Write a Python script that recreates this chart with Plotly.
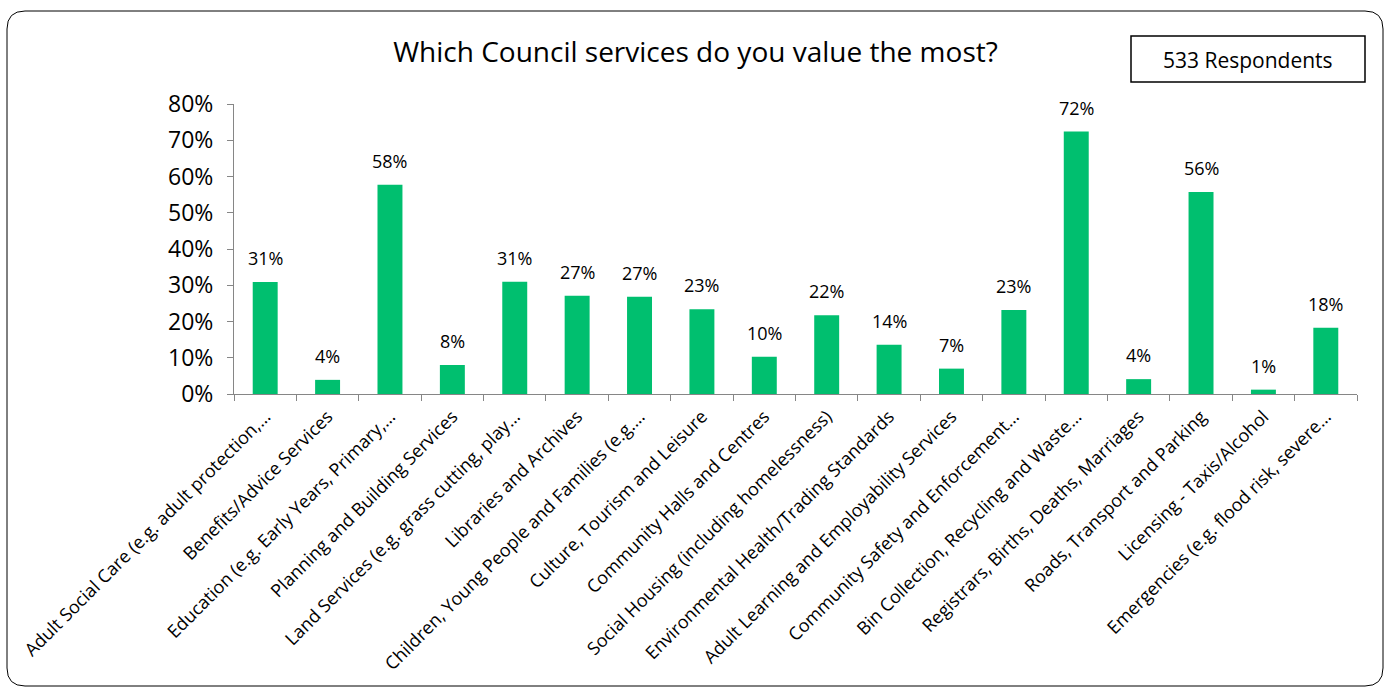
import plotly.graph_objects as go

# Survey results: share of respondents valuing each Council service
services = [
    "Adult Social Care (e.g. adult protection,…",
    "Benefits/Advice Services",
    "Education (e.g. Early Years, Primary,…",
    "Planning and Building Services",
    "Land Services (e.g. grass cutting, play…",
    "Libraries and Archives",
    "Children, Young People and Families (e.g.…",
    "Culture, Tourism and Leisure",
    "Community Halls and Centres",
    "Social Housing (including homelessness)",
    "Environmental Health/Trading Standards",
    "Adult Learning and Employability Services",
    "Community Safety and Enforcement…",
    "Bin Collection, Recycling and Waste…",
    "Registrars, Births, Deaths, Marriages",
    "Roads, Transport and Parking",
    "Licensing - Taxis/Alcohol",
    "Emergencies (e.g. flood risk, severe…",
]
shares = [0.309, 0.039, 0.577, 0.080, 0.310, 0.271, 0.268, 0.234, 0.103,
          0.217, 0.136, 0.070, 0.232, 0.724, 0.041, 0.557, 0.012, 0.183]
respondents = 533
title_text = "Which Council services do you value the most?"

W, H = 1391, 690
ML, MR, MT, MB = 234, 34, 104, 296
PW, PH = W - ML - MR, H - MT - MB


def px_x(x):
    return (x - ML) / PW


def px_y(y):
    return (H - MB - y) / PH


FONT = "Open Sans"
GREEN = "#00BF6F"
AXIS = "#868686"

fig = go.Figure(
    go.Bar(
        x=services,
        y=shares,
        marker=dict(color=GREEN, line=dict(width=0)),
        width=0.4,
        hovertemplate="%{x}: %{y:.0%}<extra></extra>",
    )
)

# Value labels sit a little above each bar top
value_labels = [
    dict(x=s, y=v, text=f"{v:.0%}", xref="x", yref="y",
         xanchor="center", yanchor="middle", yshift=24, showarrow=False,
         font=dict(family=FONT, size=18, color="#000000"))
    for s, v in zip(services, shares)
]

# Rounded frame around the whole chart
x0, x1 = px_x(7), px_x(1383)
y0, y1 = px_y(686), px_y(11)
rx, ry = 18 / PW, 18 / PH
frame = (
    f"M {x0 + rx},{y1} L {x1 - rx},{y1} Q {x1},{y1} {x1},{y1 - ry} "
    f"L {x1},{y0 + ry} Q {x1},{y0} {x1 - rx},{y0} "
    f"L {x0 + rx},{y0} Q {x0},{y0} {x0},{y0 + ry} "
    f"L {x0},{y1 - ry} Q {x0},{y1} {x0 + rx},{y1} Z"
)

fig.update_layout(
    width=W,
    height=H,
    margin=dict(l=ML, r=MR, t=MT, b=MB),
    paper_bgcolor="white",
    plot_bgcolor="white",
    showlegend=False,
    font=dict(family=FONT, color="#000000"),
    title=dict(
        text=title_text,
        x=0.5,
        xanchor="center",
        xref="container",
        y=1 - 52 / H,
        yanchor="middle",
        font=dict(family=FONT, size=28, color="#000000"),
    ),
    xaxis=dict(
        type="category",
        tickangle=-45,
        tickfont=dict(family=FONT, size=18, color="#000000"),
        ticklabelstandoff=4,
        showline=True,
        linecolor=AXIS,
        linewidth=1,
        ticks="outside",
        tickson="boundaries",
        ticklen=6,
        tickcolor=AXIS,
        showgrid=False,
        automargin=False,
    ),
    yaxis=dict(
        range=[0, 0.8],
        dtick=0.1,
        tickformat=".0%",
        tickfont=dict(family=FONT, size=23, color="#000000"),
        ticklabelstandoff=9,
        showline=True,
        linecolor=AXIS,
        linewidth=1,
        ticks="outside",
        ticklen=6,
        tickcolor=AXIS,
        showgrid=False,
        zeroline=False,
        automargin=False,
    ),
    shapes=[
        dict(type="path", xref="paper", yref="paper", path=frame,
             line=dict(color="#000000", width=1), fillcolor="rgba(0,0,0,0)"),
        dict(type="rect", xref="paper", yref="paper",
             x0=px_x(1131), x1=px_x(1365), y0=px_y(82), y1=px_y(36),
             line=dict(color="#000000", width=1.5), fillcolor="white"),
    ],
    annotations=value_labels + [
        dict(text=f"{respondents} Respondents", xref="paper", yref="paper",
             x=px_x(1248), y=px_y(60), xanchor="center", yanchor="middle",
             showarrow=False, font=dict(family=FONT, size=21, color="#000000")),
    ],
)

fig.write_html("out.html")
